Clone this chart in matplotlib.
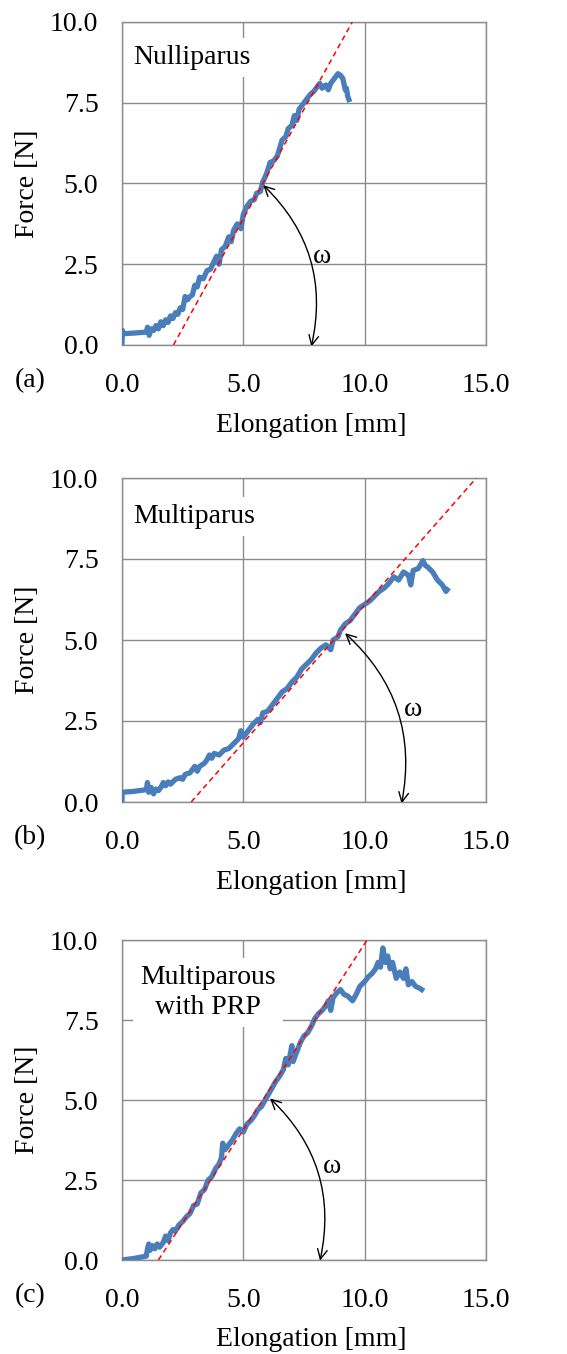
"""Force-elongation curves for three tissue groups with tangent (stiffness) lines."""
import matplotlib
matplotlib.use("Agg")
import matplotlib.pyplot as plt
from matplotlib.patches import FancyArrowPatch

plt.rcParams["font.family"] = ["Liberation Serif", "DejaVu Serif"]

# (a) Nulliparus
a_x = [0.0, 0.02, 0.05, 0.5, 1.0, 1.05, 1.12, 1.2, 1.3, 1.4, 1.5, 1.6, 1.7, 1.8,
       1.9, 2.0, 2.1, 2.2, 2.3, 2.4, 2.5, 2.6, 2.7, 2.8, 2.9, 3.0, 3.1, 3.2, 3.35,
       3.5, 3.65, 3.8, 3.9, 4.0, 4.1, 4.25, 4.4, 4.5, 4.6, 4.75, 4.9, 5.0, 5.15,
       5.3, 5.45, 5.55, 5.7, 5.8, 5.9, 6.0, 6.1, 6.25, 6.4, 6.5, 6.6, 6.75, 6.85,
       7.0, 7.1, 7.2, 7.3, 7.45, 7.6, 7.75, 7.9, 8.05, 8.15, 8.25, 8.4, 8.5, 8.6,
       8.7, 8.8, 8.9, 9.0, 9.1, 9.2, 9.25, 9.3, 9.35]
a_y = [0.05, 0.45, 0.35, 0.37, 0.4, 0.55, 0.3, 0.5, 0.45, 0.6, 0.5, 0.72, 0.6, 0.78,
       0.7, 0.9, 0.82, 1.0, 0.95, 1.15, 1.1, 1.5, 1.4, 1.5, 1.55, 1.85, 1.8, 2.1, 2.05,
       2.3, 2.35, 2.6, 2.75, 2.5, 2.95, 3.05, 3.35, 3.2, 3.55, 3.75, 3.6, 4.05, 4.3,
       4.45, 4.5, 4.7, 4.75, 5.05, 5.2, 5.4, 5.65, 5.7, 5.85, 6.1, 6.35, 6.45, 6.7,
       6.8, 7.1, 6.95, 7.3, 7.45, 7.6, 7.75, 7.85, 8.0, 8.1, 7.95, 8.05, 7.9, 8.1,
       8.2, 8.3, 8.4, 8.35, 8.25, 7.9, 7.95, 7.7, 7.6]

# (b) Multiparus
b_x = [0.0, 0.01, 0.5, 1.0, 1.05, 1.1, 1.2, 1.3, 1.4, 1.5, 1.6, 1.7, 1.8, 1.9, 2.0,
       2.2, 2.4, 2.5, 2.6, 2.8, 2.9, 3.0, 3.1, 3.2, 3.4, 3.5, 3.6, 3.7, 3.8, 4.0,
       4.2, 4.4, 4.6, 4.8, 4.9, 5.0, 5.2, 5.4, 5.6, 5.7, 5.8, 6.0, 6.2, 6.4, 6.6,
       6.8, 7.0, 7.2, 7.4, 7.6, 7.8, 8.0, 8.2, 8.4, 8.6, 8.7, 8.9, 9.0, 9.2, 9.4,
       9.6, 9.8, 10.0, 10.2, 10.4, 10.6, 10.8, 11.0, 11.2, 11.4, 11.6, 11.8, 11.9,
       12.0, 12.2, 12.4, 12.5, 12.6, 12.8, 13.0, 13.2, 13.35, 13.4]
b_y = [0.05, 0.3, 0.33, 0.38, 0.6, 0.3, 0.45, 0.25, 0.4, 0.35, 0.45, 0.6, 0.5, 0.62,
       0.55, 0.7, 0.75, 0.7, 0.85, 0.9, 1.0, 1.1, 0.95, 1.1, 1.2, 1.3, 1.45, 1.35,
       1.5, 1.45, 1.6, 1.65, 1.8, 1.95, 2.2, 2.0, 2.2, 2.4, 2.55, 2.45, 2.75, 2.8,
       3.0, 3.2, 3.4, 3.5, 3.7, 3.85, 4.1, 4.25, 4.4, 4.6, 4.75, 4.85, 4.7, 5.0, 5.1,
       5.3, 5.5, 5.6, 5.8, 6.0, 6.1, 6.2, 6.35, 6.5, 6.6, 6.75, 6.95, 6.85, 7.1, 7.0,
       6.7, 7.15, 7.2, 7.45, 7.3, 7.25, 7.1, 6.85, 6.7, 6.5, 6.55]

# (c) Multiparous with PRP
c_x = [0.0, 0.5, 1.0, 1.05, 1.1, 1.15, 1.25, 1.35, 1.45, 1.55, 1.7, 1.8, 1.9, 2.0,
       2.1, 2.2, 2.35, 2.5, 2.65, 2.8, 2.95, 3.1, 3.25, 3.4, 3.55, 3.7, 3.85, 4.0,
       4.1, 4.15, 4.25, 4.4, 4.55, 4.7, 4.85, 5.0, 5.15, 5.3, 5.45, 5.6, 5.75, 5.9,
       6.05, 6.2, 6.35, 6.5, 6.65, 6.75, 6.85, 7.0, 7.05, 7.2, 7.35, 7.5, 7.65, 7.8,
       7.95, 8.1, 8.25, 8.4, 8.5, 8.6, 8.7, 8.85, 9.0, 9.15, 9.3, 9.5, 9.65, 9.8,
       10.0, 10.15, 10.3, 10.45, 10.55, 10.65, 10.75, 10.85, 10.95, 11.05, 11.15,
       11.3, 11.45, 11.6, 11.7, 11.8, 11.95, 12.1, 12.25, 12.35]
c_y = [0.0, 0.05, 0.12, 0.35, 0.5, 0.3, 0.45, 0.35, 0.5, 0.4, 0.55, 0.75, 0.6, 0.85,
       0.95, 0.9, 1.1, 1.2, 1.35, 1.45, 1.7, 1.75, 2.1, 2.2, 2.5, 2.6, 2.85, 3.0,
       3.2, 3.65, 3.45, 3.6, 3.75, 3.95, 4.1, 4.0, 4.25, 4.35, 4.5, 4.7, 4.8, 5.0,
       5.2, 5.4, 5.6, 5.75, 5.95, 6.3, 6.1, 6.7, 6.2, 6.5, 6.8, 7.0, 7.1, 7.3, 7.55,
       7.7, 7.8, 7.95, 8.1, 7.8, 8.2, 8.35, 8.45, 8.3, 8.25, 8.1, 8.3, 8.55, 8.7,
       8.85, 8.95, 9.1, 9.3, 9.15, 9.75, 9.3, 9.5, 9.1, 9.3, 8.8, 9.0, 8.8, 9.1, 8.6,
       8.7, 8.55, 8.5, 8.45]

# tangent lines: (x at F=0, x at F=10)
tangents = [(2.12, 9.49), (2.85, 14.6), (1.5, 10.1)]
# angle arrows: (start point on curve, end point on x-axis), omega position
arrows = [((5.82, 4.95), (7.8, -0.05)), ((9.19, 5.21), (11.52, -0.05)),
          ((6.1, 5.05), (8.16, -0.02))]
omega_pos = [(8.23, 2.73), (12.0, 2.84), (8.64, 2.92)]

labels = ["Nulliparus", "Multiparus", "Multiparous\nwith PRP"]
label_pos = [(0.45, 8.9), (0.45, 8.8), (3.55, 8.35)]
panel_tags = ["(a)", "(b)", "(c)"]
xticks = [0.0, 5.0, 10.0, 15.0]
yticks = [0.0, 2.5, 5.0, 7.5, 10.0]

W, H = 567, 1354
# axes boxes in pixels: left, top, right, bottom
boxes = [(122, 22, 486, 345), (122, 478, 486, 802), (122, 940, 486, 1260)]

fig = plt.figure(figsize=(W / 100, H / 100), dpi=100)
series = [(a_x, a_y), (b_x, b_y), (c_x, c_y)]
grid_c = "#8c8c8c"

for i, (xs, ys) in enumerate(series):
    l, t, r, b = boxes[i]
    ax = fig.add_axes([l / W, 1 - b / H, (r - l) / W, (b - t) / H])
    ax.plot(xs, ys, color="#4a7ebb", lw=3.8, solid_joinstyle="round", zorder=3)
    x0, x1 = tangents[i]
    ax.plot([x0, x1], [0, 10], color="red", lw=1.1, ls=(0, (3.5, 2.5)), zorder=4)

    p0, p1 = arrows[i]
    arr = FancyArrowPatch(p0, p1, arrowstyle="<->,head_length=7,head_width=3.5",
                          connectionstyle="arc3,rad=-0.28", color="black",
                          lw=1.0, zorder=5, shrinkA=0, shrinkB=0)
    ax.add_patch(arr)
    ax.text(*omega_pos[i], "ω", fontsize=20, ha="center", va="center", zorder=6)

    ax.text(*label_pos[i], labels[i], fontsize=20, ha="left" if i < 2 else "center",
            va="center", linespacing=1.25, zorder=6,
            bbox=dict(facecolor="white", edgecolor="none", pad=5))

    ax.set_xlim(0, 15)
    ax.set_ylim(0, 10)
    ax.set_xticks(xticks)
    ax.set_yticks(yticks)
    ax.set_xticklabels([f"{v:.1f}" for v in xticks])
    ax.set_yticklabels([f"{v:.1f}" for v in yticks])
    ax.tick_params(length=0, labelsize=20, colors="black")
    ax.tick_params(axis="x", pad=20)
    ax.tick_params(axis="y", pad=17)
    ax.grid(True, color=grid_c, lw=1.0, zorder=0)
    ax.set_axisbelow(True)
    for sp in ax.spines.values():
        sp.set_color(grid_c)
        sp.set_linewidth(1.0)

    ax.set_xlabel("Elongation [mm]", fontsize=20)
    ax.set_ylabel("Force [N]", fontsize=20)
    ax.xaxis.set_label_coords(0.52, -0.21)
    ax.yaxis.set_label_coords(-0.225, 0.5)
    ax.text(-0.253, -0.11, panel_tags[i], transform=ax.transAxes, fontsize=20,
            ha="center", va="center")

fig.savefig("out.png", dpi=100)
